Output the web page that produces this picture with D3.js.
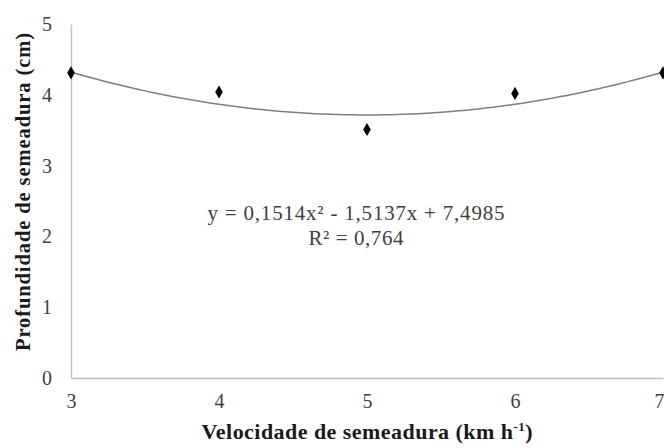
<!DOCTYPE html>
<html><head><meta charset="utf-8">
<script src="https://cdn.jsdelivr.net/npm/d3@7"></script>
<style>body{margin:0;background:#fff}svg{display:block}</style>
</head><body>
<script>
const speeds = [3, 4, 5, 6, 7];
const depths = [4.31, 4.04, 3.51, 4.02, 4.31];
const xTicks = [3, 4, 5, 6, 7];
const yTicks = [0, 1, 2, 3, 4, 5];
const trendCoefs = [0.1514, -1.5137, 7.4985]; // from the printed equation
const eqLabel = "y = 0,1514x² - 1,5137x + 7,4985";
const r2Label = "R² = 0,764";

const FONT = '"Liberation Serif"';
const W = 664, H = 448;
const svg = d3.select("body").append("svg").attr("width", W).attr("height", H);
const x = d3.scaleLinear().domain([3, 7]).range([71, 663]);
const y = d3.scaleLinear().domain([0, 5]).range([378, 24]);

const xAxis = svg.append("g").attr("transform", `translate(0,${y(0)})`)
  .call(d3.axisBottom(x).tickValues(xTicks).tickSize(0).tickPadding(16).tickFormat(d3.format("d")));
const yAxis = svg.append("g").attr("transform", `translate(${x(3)},0)`)
  .call(d3.axisLeft(y).tickValues(yTicks).tickSize(0).tickPadding(19).tickFormat(d3.format("d")));
[xAxis, yAxis].forEach(g => {
  g.attr("font-family", null).attr("font-size", null);
  g.select(".domain").attr("stroke", "#bfbfbf").attr("stroke-width", 1.5);
  g.selectAll("text").style("font-family", FONT).style("font-size", "20px").attr("fill", "#404040");
});
xAxis.selectAll(".tick").filter(d => d === 7).select("text").attr("text-anchor", "end").attr("dx", 1);

const xs = d3.range(3, 7.0001, 0.05);
const line = d3.line().x(d => x(d)).y(d => y(trendCoefs[0]*d*d + trendCoefs[1]*d + trendCoefs[2]));
svg.append("path").datum(xs).attr("d", line).attr("fill", "none")
  .attr("stroke", "#7f7f7f").attr("stroke-width", 1.5);

svg.selectAll(".pt").data(speeds).enter().append("path")
  .attr("transform", (d, i) => `translate(${x(d)},${y(depths[i])})`)
  .attr("d", d3.symbol().type(d3.symbolDiamond).size(50))
  .attr("fill", "#000");

svg.append("text").attr("x", 356).attr("y", 220).attr("text-anchor", "middle")
  .attr("textLength", 297).attr("lengthAdjust", "spacing")
  .style("font-family", FONT).style("font-size", "21px").attr("fill", "#404040").text(eqLabel);
svg.append("text").attr("x", 356).attr("y", 245).attr("text-anchor", "middle")
  .attr("textLength", 95).attr("lengthAdjust", "spacing")
  .style("font-family", FONT).style("font-size", "21px").attr("fill", "#404040").text(r2Label);

const xt = svg.append("text").attr("x", 367).attr("y", 439).attr("text-anchor", "middle")
  .attr("textLength", 331).attr("lengthAdjust", "spacing")
  .style("font-family", FONT).style("font-size", "22px").attr("font-weight", "bold").attr("fill", "#1a1a1a");
xt.append("tspan").text("Velocidade de semeadura (km h");
xt.append("tspan").attr("dy", -8).style("font-size", "13px").text("-1");
xt.append("tspan").attr("dy", 8).text(")");

svg.append("text").attr("transform", "translate(30,192) rotate(-90)").attr("text-anchor", "middle")
  .attr("textLength", 318).attr("lengthAdjust", "spacing")
  .style("font-family", FONT).style("font-size", "20.5px").attr("font-weight", "bold").attr("fill", "#1a1a1a")
  .text("Profundidade de semeadura (cm)");
</script>
</body></html>
